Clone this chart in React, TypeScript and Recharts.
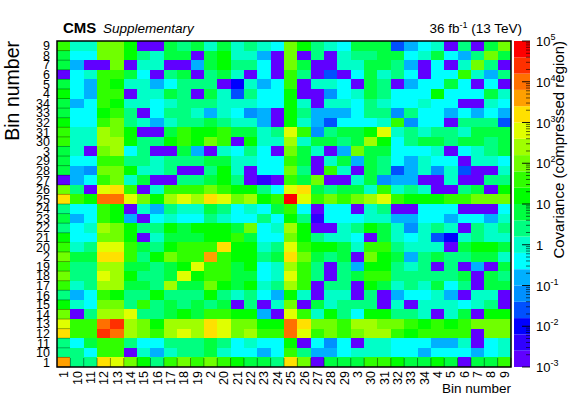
import React from 'react';
import { BarChart, Bar, ScatterChart, Scatter, XAxis, YAxis } from 'recharts';

const binLabels = ['1', '10', '11', '12', '13', '14', '15', '16', '17', '18', '19', '2', '20', '21', '22', '23', '24', '25', '26', '27', '28', '29', '3', '30', '31', '32', '33', '34', '4', '5', '6', '7', '8', '9'];

// covariance: 0 = 1e-3 ... 19 = 1e5, 0.4 decades per level
const bin9 = [11, 7, 7, 12, 12, 10, 0, 0, 9, 8, 9, 7, 9, 7, 8, 7, 6, 12, 10, 8, 7, 6, 9, 9, 9, 3, 5, 6, 7, 0, 8, 0, 9, 12];
const bin8 = [9, 6, 6, 12, 12, 10, 8, 7, 9, 9, 0, 9, 10, 7, 7, 5, 0, 12, 0, 8, 0, 7, 8, 8, 9, 9, 6, 7, 9, 6, 5, 8, 12, 9];
const bin7 = [9, 5, 0, 0, 12, 0, 7, 7, 0, 0, 5, 9, 10, 8, 8, 6, 0, 12, 9, 0, 0, 7, 7, 9, 9, 8, 5, 0, 6, 0, 7, 12, 8, 0];
const bin6 = [0, 6, 7, 11, 11, 9, 6, 0, 8, 9, 0, 8, 9, 7, 0, 6, 0, 11, 8, 0, 3, 0, 6, 9, 7, 8, 6, 0, 6, 6, 11, 7, 5, 8];
const bin5 = [9, 6, 5, 11, 10, 7, 7, 5, 6, 8, 8, 8, 0, 2, 7, 5, 6, 11, 0, 7, 7, 6, 0, 9, 8, 0, 5, 6, 6, 9, 6, 0, 6, 0];
const bin4 = [10, 6, 5, 11, 11, 0, 7, 7, 9, 8, 0, 9, 7, 3, 8, 6, 6, 10, 0, 0, 4, 6, 7, 9, 8, 6, 6, 6, 10, 6, 6, 6, 9, 7];
const bin34 = [9, 5, 6, 11, 10, 7, 7, 6, 7, 8, 8, 8, 7, 7, 7, 6, 6, 10, 7, 0, 7, 7, 6, 8, 7, 6, 6, 7, 6, 6, 0, 0, 7, 6];
const bin33 = [9, 6, 6, 10, 11, 8, 0, 6, 8, 8, 7, 5, 7, 6, 4, 5, 0, 10, 8, 5, 5, 5, 6, 8, 8, 4, 8, 6, 6, 5, 6, 5, 6, 5];
const bin32 = [10, 6, 6, 11, 12, 8, 7, 5, 7, 8, 8, 9, 8, 7, 7, 5, 0, 10, 7, 5, 3, 6, 6, 6, 7, 11, 4, 6, 6, 0, 8, 8, 8, 3];
const bin31 = [11, 7, 7, 13, 12, 10, 0, 0, 9, 11, 10, 10, 11, 9, 9, 7, 8, 14, 11, 4, 8, 9, 9, 10, 14, 7, 8, 7, 8, 8, 7, 9, 9, 9];
const bin30 = [11, 7, 7, 13, 13, 10, 8, 8, 10, 11, 10, 12, 11, 0, 10, 7, 7, 13, 7, 9, 9, 8, 9, 13, 10, 6, 8, 9, 9, 8, 9, 9, 8, 9];
const bin3 = [9, 7, 0, 12, 13, 6, 8, 0, 0, 9, 5, 0, 7, 6, 8, 6, 0, 12, 9, 7, 0, 5, 12, 9, 9, 6, 6, 6, 7, 0, 6, 7, 8, 9];
const bin29 = [9, 6, 6, 11, 11, 8, 8, 7, 8, 8, 8, 9, 9, 7, 7, 6, 6, 11, 9, 0, 7, 9, 5, 9, 8, 6, 5, 7, 6, 6, 0, 7, 7, 6];
const bin28 = [9, 5, 4, 12, 12, 10, 7, 7, 8, 0, 0, 8, 10, 7, 0, 6, 6, 12, 8, 0, 11, 7, 0, 9, 8, 3, 5, 7, 4, 7, 3, 0, 0, 7];
const bin27 = [0, 5, 6, 11, 12, 7, 9, 0, 0, 8, 8, 9, 10, 8, 0, 1, 0, 11, 9, 12, 0, 0, 7, 9, 4, 5, 5, 0, 0, 7, 0, 0, 8, 8];
const bin26 = [12, 8, 0, 14, 15, 11, 0, 7, 11, 11, 11, 12, 11, 10, 10, 8, 6, 14, 15, 9, 8, 9, 9, 7, 11, 7, 8, 7, 0, 0, 8, 9, 0, 10];
const bin25 = [15, 11, 10, 17, 17, 14, 12, 10, 13, 14, 13, 15, 14, 12, 13, 10, 11, 19, 14, 11, 12, 11, 12, 13, 14, 11, 10, 10, 10, 11, 11, 12, 12, 12];
// the matrix is symmetric: the rows below only list the left half, the right half is mirrored
const bin24 = [8, 6, 6, 11, 10, 0, 7, 5, 8, 7, 7, 9, 8, 6, 7, 6, 9];
const bin23 = [9, 5, 6, 11, 10, 5, 0, 6, 7, 6, 6, 8, 7, 6, 6, 8, 6];
const bin22 = [8, 6, 7, 13, 12, 10, 8, 8, 10, 9, 10, 10, 10, 9, 12, 6, 7];
const bin21 = [10, 6, 6, 12, 12, 10, 0, 7, 9, 9, 9, 10, 10, 11, 9, 6, 6];
const bin20 = [11, 7, 8, 14, 14, 11, 9, 8, 10, 11, 11, 11, 15, 10, 10, 7, 8];
const bin2 = [12, 9, 9, 15, 15, 11, 8, 10, 12, 11, 11, 16, 11, 10, 10, 8, 9];
const bin19 = [11, 8, 8, 13, 13, 9, 9, 8, 9, 10, 14, 11, 11, 9, 10, 6, 7];
const bin18 = [12, 8, 8, 14, 13, 10, 8, 8, 9, 14, 10, 11, 11, 9, 9, 6, 7];
const bin17 = [11, 7, 8, 13, 13, 9, 9, 8, 13, 9, 9, 12, 10, 9, 10, 7, 8];
const bin16 = [8, 5, 6, 11, 10, 8, 8, 10, 8, 8, 8, 10, 8, 7, 8, 6, 5];
const bin15 = [10, 7, 6, 12, 12, 8, 11, 8, 9, 8, 9, 8, 9, 0, 8, 0, 7];
const bin14 = [12, 0, 8, 13, 13, 14, 8, 8, 9, 10, 9, 11, 11, 10, 10, 5, 0];
const bin13 = [14, 11, 11, 17, 18, 13, 12, 10, 13, 13, 13, 15, 14, 12, 12, 10, 10];
const bin12 = [15, 11, 11, 18, 17, 13, 12, 11, 13, 14, 13, 15, 14, 12, 13, 11, 11];
const bin11 = [8, 6, 9, 11, 11, 8, 6, 6, 8, 8, 8, 9, 8, 6, 7, 6, 6];
const bin10 = [8, 8, 6, 11, 11, 0, 7, 5, 7, 8, 8, 9, 7, 6, 6, 5, 6];
const bin1 = [16, 8, 8, 15, 14, 12, 10, 8, 11, 12, 11, 12, 11, 10, 9, 9, 8];

const rows = [bin9, bin8, bin7, bin6, bin5, bin4, bin34, bin33, bin32, bin31, bin30, bin3, bin29, bin28, bin27, bin26, bin25, bin24, bin23, bin22, bin21, bin20, bin2, bin19, bin18, bin17, bin16, bin15, bin14, bin13, bin12, bin11, bin10, bin1];
const rowLabels = [...binLabels].reverse();

const palette = ['#6000ff', '#3000ff', '#0000ff', '#0050ff', '#0090ff', '#00b0ff', '#00ffff', '#00ffc8', '#00ff80', '#00ff40', '#00ff00', '#30ff00', '#70ff00', '#a0ff00', '#e0ff00', '#ffe000', '#ffa000', '#ff7000', '#ff3000', '#ff0000'];

const N = binLabels.length;
const W = 568;
const H = 408;
const plot = { left: 57, right: 511, top: 41, bottom: 367 };
const cellW = (plot.right - plot.left) / N;
const cellH = (plot.bottom - plot.top) / N;
const font = '"Liberation Sans", Arial, sans-serif';

const cells = rows.flatMap((row, r) =>
  binLabels.map((_, c) => ({
    col: c,
    row: r,
    level: c < row.length ? row[c] : rows[N - 1 - c][N - 1 - r],
  })),
);

const indexTicks = binLabels.map((_, i) => i);

const CellShape = (props: any) => (
  <rect
    x={props.cx - cellW / 2}
    y={props.cy - cellH / 2}
    width={cellW}
    height={cellH}
    fill={palette[props.payload.level]}
    shapeRendering="crispEdges"
  />
);

const BottomTick = ({ x, y, payload }: any) => (
  <g>
    <line x1={x + cellW / 2} x2={x + cellW / 2} y1={y} y2={y - 9} stroke="#000" strokeOpacity={0.45} />
    <text
      transform={`translate(${x + 4.5},${y + 4}) rotate(-90)`}
      textAnchor="end"
      fontFamily={font}
      fontSize={12.5}
      fill="#000"
    >
      {binLabels[payload.value]}
    </text>
  </g>
);

const LeftTick = ({ x, y, payload }: any) => (
  <g>
    <line x1={x} x2={x + 13} y1={y + cellH / 2} y2={y + cellH / 2} stroke="#000" strokeOpacity={0.35} />
    <text x={x - 7} y={y + 4.5} textAnchor="end" fontFamily={font} fontSize={12.5} fill="#000">
      {rowLabels[payload.value]}
    </text>
  </g>
);

// colour bar: one stacked column on a log10 axis, counted from 1e-3
const decades = 8;
const levelStep = decades / palette.length;
const scaleRow = [Object.fromEntries(palette.map((_, i) => [`l${i}`, levelStep]))];
const scaleTicks: number[] = [];
for (let d = 0; d <= decades; d++) {
  scaleTicks.push(d);
  if (d < decades) [2, 3, 4, 5, 6, 7, 8, 9].forEach((m) => scaleTicks.push(d + Math.log10(m)));
}

const ScaleTick = ({ x, y, payload }: any) => {
  const major = Number.isInteger(payload.value);
  const exp = payload.value - 3;
  return (
    <g>
      <line x1={x - (major ? 8 : 4)} x2={x} y1={y} y2={y} stroke="#000" strokeOpacity={major ? 0.9 : 0.6} />
      {major && (
        <text x={x + 6} y={y + 5} fontFamily={font} fontSize={13} fill="#000">
          {exp === 0 ? '1' : '10'}
          {exp !== 0 && exp !== 1 && (
            <tspan dy={-6} fontSize={9}>
              {exp}
            </tspan>
          )}
        </text>
      )}
    </g>
  );
};

export default function App() {
  return (
    <div style={{ position: 'absolute', left: 0, top: 0, width: W, height: H, background: '#fff', overflow: 'hidden' }}>
      <div style={{ position: 'absolute', left: 0, top: 0 }}>
        <ScatterChart width={W} height={H} margin={{ top: plot.top, right: W - plot.right, bottom: 0, left: 0 }}>
          <XAxis
            type="number"
            dataKey="col"
            domain={[-0.5, N - 0.5]}
            ticks={indexTicks}
            interval={0}
            height={H - plot.bottom}
            axisLine={false}
            tickLine={false}
            tickSize={0}
            tickMargin={0}
            tick={BottomTick}
          />
          <YAxis
            type="number"
            dataKey="row"
            reversed
            domain={[-0.5, N - 0.5]}
            ticks={indexTicks}
            interval={0}
            width={plot.left}
            axisLine={false}
            tickLine={false}
            tickSize={0}
            tickMargin={0}
            tick={LeftTick}
          />
          <Scatter data={cells} shape={CellShape} isAnimationActive={false} />
        </ScatterChart>
      </div>
      <div style={{ position: 'absolute', left: 0, top: 0 }}>
        <BarChart
          width={W}
          height={H}
          data={scaleRow}
          barCategoryGap={0}
          margin={{ top: plot.top, right: 0, bottom: H - plot.bottom, left: 514 }}
        >
          <XAxis hide />
          <YAxis
            orientation="right"
            type="number"
            domain={[0, decades]}
            ticks={scaleTicks}
            interval={0}
            width={38}
            axisLine={false}
            tickLine={false}
            tickSize={0}
            tickMargin={0}
            tick={ScaleTick}
          />
          {palette.map((color, i) => (
            <Bar key={color} dataKey={`l${i}`} stackId="scale" fill={color} isAnimationActive={false} />
          ))}
        </BarChart>
      </div>
      <svg width={W} height={H} style={{ position: 'absolute', left: 0, top: 0, pointerEvents: 'none' }}>
        <rect
          x={plot.left}
          y={plot.top}
          width={plot.right - plot.left}
          height={plot.bottom - plot.top}
          fill="none"
          stroke="#000"
          strokeWidth={1.5}
        />
        <text x={63} y={33} fontFamily={font} fontSize={15} fontWeight="bold">
          CMS
        </text>
        <text x={103} y={33} fontFamily={font} fontSize={13.5} fontStyle="italic">
          Supplementary
        </text>
        <text x={522} y={33} textAnchor="end" fontFamily={font} fontSize={13.5}>
          36 fb
          <tspan dy={-5} fontSize={9}>
            -1
          </tspan>
          <tspan dy={5}> (13 TeV)</tspan>
        </text>
        <text x={511} y={393} textAnchor="end" fontFamily={font} fontSize={13.5}>
          Bin number
        </text>
        <text transform="translate(19,41) rotate(-90)" textAnchor="end" fontFamily={font} fontSize={19.5}>
          Bin number
        </text>
        <text transform="translate(564,41) rotate(-90)" textAnchor="end" fontFamily={font} fontSize={15}>
          Covariance (compressed region)
        </text>
      </svg>
    </div>
  );
}
